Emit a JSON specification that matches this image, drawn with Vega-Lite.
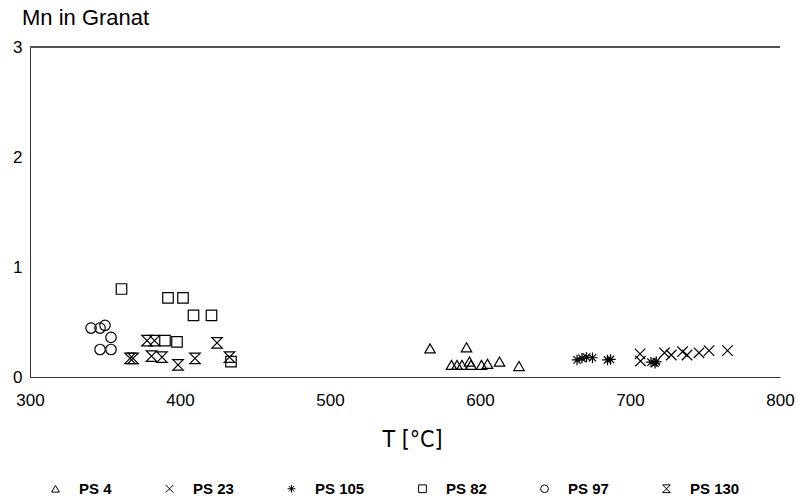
{
  "$schema": "https://vega.github.io/schema/vega-lite/v6.json",
  "width": 750,
  "height": 330,
  "autosize": {"type": "none"},
  "padding": {"left": 30, "top": 47, "right": 24, "bottom": 121},
  "background": "white",
  "title": {"text": "Mn in Granat", "anchor": "start", "frame": "group", "fontSize": 22, "font": "Liberation Sans", "fontWeight": "normal", "color": "black", "dx": -8, "offset": 8},
  "data": {"values": [
    {"s": "PS 97", "T": 340.7, "Mn": 0.445},
    {"s": "PS 97", "T": 346.7, "Mn": 0.445},
    {"s": "PS 97", "T": 350, "Mn": 0.47},
    {"s": "PS 97", "T": 354, "Mn": 0.36},
    {"s": "PS 97", "T": 346.7, "Mn": 0.25},
    {"s": "PS 97", "T": 354, "Mn": 0.25},
    {"s": "PS 82", "T": 361, "Mn": 0.80},
    {"s": "PS 82", "T": 392, "Mn": 0.72},
    {"s": "PS 82", "T": 402, "Mn": 0.72},
    {"s": "PS 82", "T": 409, "Mn": 0.56},
    {"s": "PS 82", "T": 421, "Mn": 0.56},
    {"s": "PS 82", "T": 390, "Mn": 0.33},
    {"s": "PS 82", "T": 398, "Mn": 0.32},
    {"s": "PS 82", "T": 434, "Mn": 0.14},
    {"s": "PS 130", "T": 378, "Mn": 0.33},
    {"s": "PS 130", "T": 383, "Mn": 0.33},
    {"s": "PS 130", "T": 366.7, "Mn": 0.17},
    {"s": "PS 130", "T": 368.7, "Mn": 0.17},
    {"s": "PS 130", "T": 381, "Mn": 0.19},
    {"s": "PS 130", "T": 388, "Mn": 0.18},
    {"s": "PS 130", "T": 398.7, "Mn": 0.11},
    {"s": "PS 130", "T": 410, "Mn": 0.17},
    {"s": "PS 130", "T": 424.7, "Mn": 0.31},
    {"s": "PS 130", "T": 433, "Mn": 0.18},
    {"s": "PS 4", "T": 566.7, "Mn": 0.26},
    {"s": "PS 4", "T": 591, "Mn": 0.27},
    {"s": "PS 4", "T": 581, "Mn": 0.11},
    {"s": "PS 4", "T": 584.7, "Mn": 0.11},
    {"s": "PS 4", "T": 588, "Mn": 0.11},
    {"s": "PS 4", "T": 593, "Mn": 0.14},
    {"s": "PS 4", "T": 594, "Mn": 0.11},
    {"s": "PS 4", "T": 601, "Mn": 0.11},
    {"s": "PS 4", "T": 605, "Mn": 0.12},
    {"s": "PS 4", "T": 613, "Mn": 0.14},
    {"s": "PS 4", "T": 626, "Mn": 0.10},
    {"s": "PS 105", "T": 664.7, "Mn": 0.155},
    {"s": "PS 105", "T": 668, "Mn": 0.17},
    {"s": "PS 105", "T": 671, "Mn": 0.18},
    {"s": "PS 105", "T": 675, "Mn": 0.175},
    {"s": "PS 105", "T": 685, "Mn": 0.155},
    {"s": "PS 105", "T": 687, "Mn": 0.16},
    {"s": "PS 105", "T": 714, "Mn": 0.135},
    {"s": "PS 105", "T": 716.7, "Mn": 0.125},
    {"s": "PS 105", "T": 717.5, "Mn": 0.14},
    {"s": "PS 23", "T": 706.7, "Mn": 0.21},
    {"s": "PS 23", "T": 707, "Mn": 0.145},
    {"s": "PS 23", "T": 723, "Mn": 0.22},
    {"s": "PS 23", "T": 727.5, "Mn": 0.2},
    {"s": "PS 23", "T": 735, "Mn": 0.23},
    {"s": "PS 23", "T": 738, "Mn": 0.2},
    {"s": "PS 23", "T": 746, "Mn": 0.22},
    {"s": "PS 23", "T": 752.7, "Mn": 0.24},
    {"s": "PS 23", "T": 765, "Mn": 0.24}
  ]},
  "layer": [
    {
      "mark": {"type": "rule", "color": "#555", "strokeWidth": 1},
      "encoding": {"y": {"datum": 3}}
    },
    {
      "mark": {"type": "point", "filled": false, "color": "black", "strokeWidth": 1.2, "size": 110, "opacity": 1},
      "encoding": {
        "x": {"field": "T", "type": "quantitative",
          "scale": {"domain": [300, 800], "nice": false, "zero": false},
          "axis": {"values": [300, 400, 500, 600, 700, 800], "grid": false, "title": "T [°C]", "ticks": false, "labelFlush": false, "labelPadding": 15, "titleFontSize": 23, "titlePadding": 20, "titleFont": "DejaVu Sans Condensed", "titleFontWeight": "normal", "titleX": 382, "titleAnchor": "middle"}},
        "y": {"field": "Mn", "type": "quantitative",
          "scale": {"domain": [0, 3], "nice": false},
          "axis": {"values": [0, 1, 2, 3], "format": "d", "grid": false, "title": null, "ticks": false, "labelFlush": false, "labelPadding": 8}},
        "shape": {"field": "s", "type": "nominal",
          "scale": {"domain": ["PS 4", "PS 23", "PS 105", "PS 82", "PS 97", "PS 130"],
            "range": ["triangle-up", "M-1,-1L1,1M-1,1L1,-1", "M-1,0L1,0M0,-1L0,1M-0.7,-0.7L0.7,0.7M-0.7,0.7L0.7,-0.7", "square", "circle", "M-1,-1L1,-1L-1,1L1,1Z"]},
          "legend": {"orient": "none", "legendX": 18, "legendY": 434, "direction": "horizontal", "columns": 6, "title": null, "symbolSize": 60, "symbolStrokeWidth": 1, "labelFontSize": 15, "labelFontWeight": "bold", "labelFont": "Liberation Sans", "labelColor": "black", "labelOffset": 16, "columnPadding": 50, "padding": 0}}
      }
    }
  ],
  "config": {
    "view": {"stroke": null},
    "axis": {"domainColor": "#333", "labelColor": "black", "labelFont": "Liberation Sans", "labelFontSize": 17, "titleColor": "black"}
  }
}
